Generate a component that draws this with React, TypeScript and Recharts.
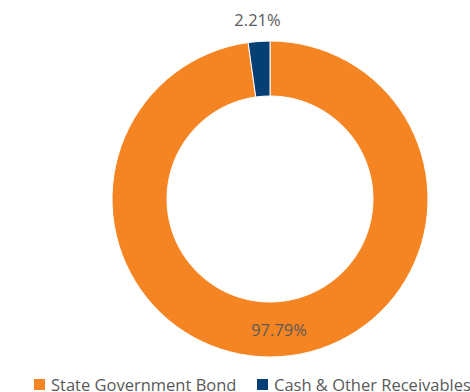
import React from 'react';
import { PieChart, Pie, Cell, Legend } from 'recharts';

const categories = ['State Government Bond', 'Cash & Other Receivables'];
const shares = [97.79, 2.21];
const colors = ['#F58522', '#063F74'];

const data = categories.map((name, i) => ({ name, value: shares[i] }));

const RAD = Math.PI / 180;
const FONT = "'Open Sans', sans-serif";
const legendX = [34, 257];

const renderLabel = (props: any) => {
  const { cx, cy, midAngle, innerRadius, outerRadius, index, value } = props;
  const r = index === 0 ? (innerRadius + outerRadius) / 2 : outerRadius + 22;
  const x = cx + r * Math.cos(-midAngle * RAD);
  const y = cy + r * Math.sin(-midAngle * RAD);
  return (
    <text x={x} y={y} fill="#595959" fontSize={16.5} textAnchor="middle" dominantBaseline="central"
      fontFamily={FONT}>
      {value.toFixed(2)}%
    </text>
  );
};

const LegendContent = () => (
  <div style={{ position: 'relative', width: 470, height: 22, fontFamily: FONT, fontSize: 16.5, color: '#595959' }}>
    {categories.map((c, i) => (
      <div key={c} style={{ position: 'absolute', left: legendX[i], top: 0, display: 'flex', alignItems: 'center', whiteSpace: 'nowrap', height: 22 }}>
        <span style={{ width: 11, height: 11, flexShrink: 0, background: colors[i], marginRight: 6, display: 'inline-block' }} />
        <span>{c}</span>
      </div>
    ))}
  </div>
);

export default function App() {
  return (
    <div style={{ position: 'absolute', left: 0, top: 0, background: '#fff' }}>
      <PieChart width={470} height={392} margin={{ top: 0, right: 0, bottom: 0, left: 0 }}>
        <Pie
          data={data}
          dataKey="value"
          nameKey="name"
          cx={270}
          cy={199}
          innerRadius={103}
          outerRadius={158}
          startAngle={90}
          endAngle={-270}
          stroke="#fff"
          strokeWidth={1}
          label={renderLabel}
          labelLine={false}
          isAnimationActive={false}
        >
          {data.map((d, i) => (
            <Cell key={d.name} fill={colors[i]} />
          ))}
        </Pie>
        <Legend
          content={<LegendContent />}
          wrapperStyle={{ position: 'absolute', left: 0, top: 373, width: 470, height: 22 }}
        />
      </PieChart>
    </div>
  );
}
